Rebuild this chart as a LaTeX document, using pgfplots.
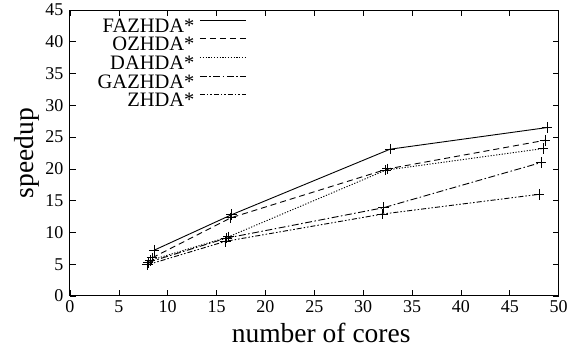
\documentclass[border=0pt]{standalone}
\usepackage{fontspec}
\setmainfont{Liberation Serif}
\usepackage{pgfplots}
\pgfplotsset{compat=1.18}
\begin{document}
\begin{tikzpicture}
\begin{axis}[
  scale only axis, width=488.7pt, height=286pt,
  xmin=0, xmax=50, ymin=0, ymax=45,
  xtick={0,5,...,50}, ytick={0,5,...,45},
  tick align=inside, major tick length=6pt,
  tick style={black, line width=0.7pt},
  axis line style={line width=1pt},
  /pgf/number format/assume math mode=true,
  ticklabel style={font=\fontsize{18}{18}\selectfont},
  xticklabel style={yshift=-1pt},
  yticklabel style={xshift=-3pt},
  xlabel={number of cores}, ylabel={speedup},
  label style={font=\fontsize{27.5}{27.5}\selectfont},
  xlabel style={at={(axis description cs:0.514,-0.164)}, anchor=base},
  ylabel style={at={(axis description cs:-0.088,0.5)}, anchor=center},
  legend style={at={(axis description cs:0.3675,0.98)}, anchor=north east, draw=none, fill=none,
    font=\fontsize{20.5}{20.5}\selectfont, row sep=0pt, column sep=5pt,
    nodes={inner sep=0pt, text height=14.3pt, text depth=4.3pt}},
  legend cell align=right,
  legend plot pos=right,
  legend image code/.code={\draw[#1] (0pt,7pt) -- (46pt,7pt);},
  every axis plot/.append style={black, line width=0.9pt, mark=+, mark size=5.3pt, mark options={solid}},
  clip=false,
]
\coordinate (O) at (rel axis cs:0,0);
\addplot[solid] coordinates {(8.6,7.2) (16.55,12.8) (32.75,23.1) (48.8,26.5)};
\addlegendentry{FAZHDA*}
\addplot[dash pattern=on 6pt off 4pt] coordinates {(8.4,6.0) (16.45,12.3) (32.5,20.0) (48.6,24.5)};
\addlegendentry{OZHDA*}
\addplot[dash pattern=on 1.2pt off 1.6pt] coordinates {(8.2,5.6) (16.2,9.3) (32.3,19.8) (48.4,23.2)};
\addlegendentry{DAHDA*}
\addplot[dash pattern=on 7pt off 2.5pt on 1.5pt off 2.5pt] coordinates {(8.0,5.3) (16.0,9.1) (32.1,13.9) (48.2,21.0)};
\addlegendentry{GAZHDA*}
\addplot[dash pattern=on 5pt off 2pt on 1.5pt off 2pt on 1.5pt off 2pt] coordinates {(7.9,4.9) (15.9,8.6) (32.0,12.9) (48.0,16.0)};
\addlegendentry{ZHDA*}
\end{axis}
\path (O) ++(-70pt,-55pt) rectangle ++(582pt,351pt);
\end{tikzpicture}
\end{document}
